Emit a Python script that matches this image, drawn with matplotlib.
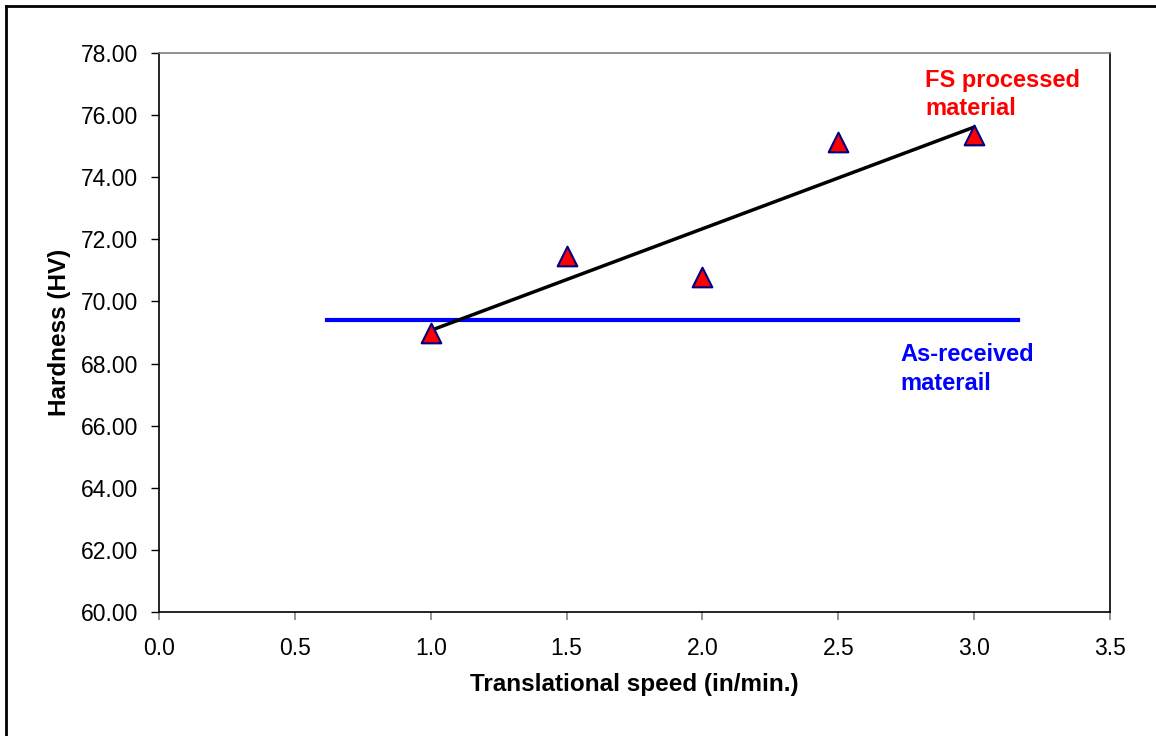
import numpy as np
import matplotlib
matplotlib.use("Agg")
import matplotlib.pyplot as plt
from matplotlib.lines import Line2D

plt.rcParams['font.family'] = ['Liberation Sans', 'DejaVu Sans']

# Data
speed = [1.0, 1.5, 2.0, 2.5, 3.0]
hardness = [69.0, 71.45, 70.78, 75.12, 75.35]
as_received_hv = 69.4
as_received_x = [0.62, 3.16]
x_ticks = [0.0, 0.5, 1.0, 1.5, 2.0, 2.5, 3.0, 3.5]
y_ticks = [60, 62, 64, 66, 68, 70, 72, 74, 76, 78]
x_label = "Translational speed (in/min.)"
y_label = "Hardness (HV)"
fs_label = "FS processed\nmaterial"
ar_label = "As-received\nmaterail"

fig = plt.figure(figsize=(11.56, 7.36), dpi=100)
ax = fig.add_axes([159/1156, 1 - 612/736, (1110-159)/1156, (612-53)/736])

# figure frame (left and top edges visible)
fig.add_artist(Line2D([6/1156, 6/1156], [0, 1 - 6/736], color='black', lw=2, transform=fig.transFigure))
fig.add_artist(Line2D([6/1156, 1], [1 - 6/736, 1 - 6/736], color='black', lw=2, transform=fig.transFigure))

# as-received line
ax.plot(as_received_x, [as_received_hv, as_received_hv], color='#0000FF', lw=3, zorder=2)

# linear trend
coef = np.polyfit(speed, hardness, 1)
xt = np.array([min(speed), max(speed)])
ax.plot(xt, np.polyval(coef, xt), color='black', lw=2.5, zorder=3)

# points
ax.scatter(speed, hardness, marker='^', s=200, facecolor='#FF0000', edgecolor='#000080', linewidth=1.5, zorder=4)

ax.text(2.82, 77.5, fs_label, color='#FF0000', fontsize=17, fontweight='bold', va='top', ha='left', linespacing=1.32)
ax.text(2.73, 68.66, ar_label, color='#0000FF', fontsize=17, fontweight='bold', va='top', ha='left', linespacing=1.32)

ax.set_xlim(0, 3.5)
ax.set_ylim(60, 78)
ax.set_xticks(x_ticks)
ax.set_xticklabels([f"{v:.1f}" for v in x_ticks])
ax.set_yticks(y_ticks)
ax.set_yticklabels([f"{v:.2f}" for v in y_ticks])
ax.tick_params(axis='y', direction='out', length=6, width=1, color='black', labelsize=16.5, pad=9)
ax.tick_params(axis='x', direction='out', length=6, width=1.2, color='#808080', labelsize=16.5, pad=12)

ax.spines['left'].set_color('black')
ax.spines['bottom'].set_color('black')
ax.spines['right'].set_color('black')
ax.spines['top'].set_color('#808080')
for s in ax.spines.values():
    s.set_linewidth(1.2)

ax.set_xlabel(x_label, fontsize=17.5, fontweight='bold', labelpad=9)
ax.set_ylabel(y_label, fontsize=17.5, fontweight='bold', labelpad=7)

fig.savefig("out.png", dpi=100)
